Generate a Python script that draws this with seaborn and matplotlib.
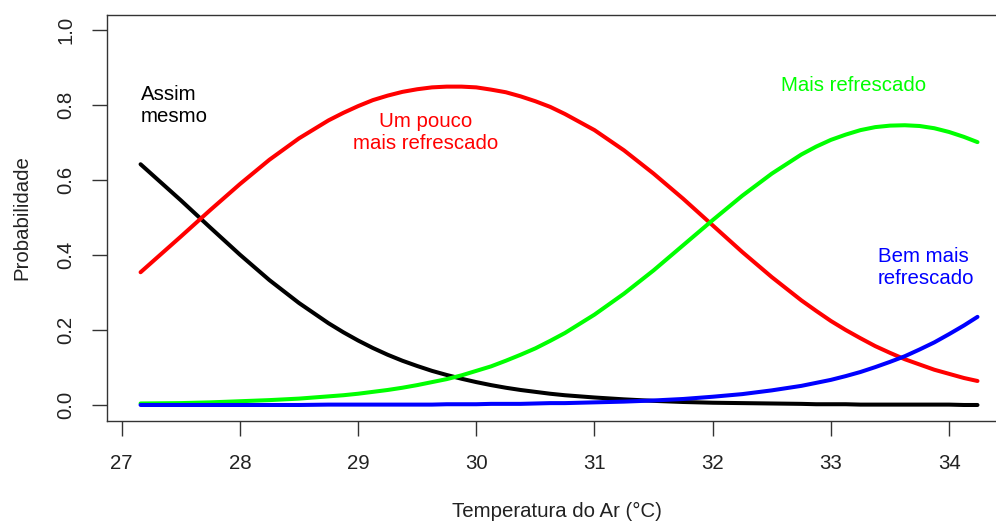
import matplotlib
matplotlib.use("Agg")
import matplotlib.pyplot as plt
import seaborn as sns
import pandas as pd

# Air temperature (°C) at which the predicted probabilities are given
temperatura = [27.16, 27.5, 27.75, 28.0, 28.25, 28.5, 28.75,
               28.875, 29.0, 29.125, 29.25, 29.375, 29.5, 29.625, 29.75, 29.875, 30.0,
               30.125, 30.25, 30.375, 30.5, 30.625, 30.75,
               31.0, 31.25, 31.5, 31.75, 32.0, 32.25, 32.5, 32.75,
               32.875, 33.0, 33.125, 33.25, 33.375, 33.5, 33.625, 33.75, 33.875, 34.0,
               34.125, 34.24]

# Predicted probability of each thermal-preference answer
assim_mesmo = [0.642, 0.546, 0.473, 0.401, 0.333, 0.272, 0.218,
               0.194, 0.172, 0.152, 0.134, 0.118, 0.104, 0.091, 0.080, 0.070, 0.061,
               0.053, 0.046, 0.040, 0.035, 0.030, 0.026,
               0.020, 0.015, 0.011, 0.008, 0.006, 0.005, 0.004, 0.003,
               0.002, 0.002, 0.002, 0.001, 0.001, 0.001, 0.001, 0.001, 0.001, 0.001,
               0.000, 0.000]
um_pouco = [0.354, 0.449, 0.520, 0.589, 0.654, 0.711, 0.759,
            0.779, 0.797, 0.813, 0.825, 0.835, 0.842, 0.847, 0.849, 0.849, 0.847,
            0.841, 0.834, 0.823, 0.810, 0.795, 0.776,
            0.733, 0.679, 0.617, 0.550, 0.479, 0.408, 0.341, 0.279,
            0.251, 0.224, 0.200, 0.178, 0.157, 0.139, 0.122, 0.108, 0.094, 0.083,
            0.072, 0.064]
mais_refrescado = [0.004, 0.005, 0.007, 0.010, 0.013, 0.017, 0.023,
                   0.026, 0.030, 0.035, 0.040, 0.046, 0.053, 0.061, 0.069, 0.079, 0.091,
                   0.103, 0.118, 0.134, 0.151, 0.171, 0.192,
                   0.241, 0.297, 0.359, 0.426, 0.493, 0.558, 0.617, 0.668,
                   0.689, 0.707, 0.721, 0.733, 0.741, 0.745, 0.746, 0.744, 0.738, 0.728,
                   0.715, 0.701]
bem_mais = [0.000, 0.000, 0.000, 0.000, 0.000, 0.000, 0.001,
            0.001, 0.001, 0.001, 0.001, 0.001, 0.001, 0.001, 0.002, 0.002, 0.002,
            0.003, 0.003, 0.003, 0.004, 0.005, 0.005,
            0.007, 0.009, 0.012, 0.016, 0.022, 0.029, 0.039, 0.051,
            0.059, 0.067, 0.077, 0.088, 0.101, 0.115, 0.130, 0.148, 0.167, 0.189,
            0.212, 0.235]

categorias = ["Assim mesmo", "Um pouco mais refrescado", "Mais refrescado",
              "Bem mais refrescado"]
cores = ["#000000", "#FF0000", "#00FF00", "#0000FF"]

x_ticks = [27, 28, 29, 30, 31, 32, 33, 34]
y_ticks = [0.0, 0.2, 0.4, 0.6, 0.8, 1.0]
y_ticklabels = ["0.0", "0.2", "0.4", "0.6", "0.8", "1.0"]

df = pd.concat(
    [pd.DataFrame({"Temperatura": temperatura, "Probabilidade": vals, "Resposta": cat})
     for cat, vals in zip(categorias, [assim_mesmo, um_pouco, mais_refrescado, bem_mais])],
    ignore_index=True,
)

sns.set_style("white")
plt.rcParams["font.family"] = ["Liberation Sans", "DejaVu Sans"]
FS = 14.7
TXT = "#222222"

fig = plt.figure(figsize=(9.96, 5.22), dpi=100)
ax = fig.add_axes([107 / 996, 1 - 421 / 522, 903 / 996, 406 / 522])

sns.lineplot(data=df, x="Temperatura", y="Probabilidade", hue="Resposta",
             hue_order=categorias, palette=cores, linewidth=2.9, legend=False,
             ax=ax, sort=False)
for line in ax.lines:
    line.set_solid_joinstyle("round")
    line.set_solid_capstyle("round")

ax.set_xlim(26.876, 34.515)
ax.set_ylim(-0.0427, 1.04)

ax.set_xticks(x_ticks)
ax.set_xticklabels([str(t) for t in x_ticks])
ax.set_yticks(y_ticks)
ax.set_yticklabels(y_ticklabels, rotation=90, va="center")
ax.tick_params(axis="both", which="major", direction="out", length=11, width=1,
               color="#333333", labelsize=FS, labelcolor=TXT, bottom=True, left=True)
ax.tick_params(axis="x", pad=13)
ax.tick_params(axis="y", pad=12)

for side in ["left", "right", "top", "bottom"]:
    ax.spines[side].set_visible(True)
    ax.spines[side].set_color("#333333")
    ax.spines[side].set_linewidth(1.0)

ax.set_xlabel("Temperatura do Ar (°C)", fontsize=FS, color=TXT)
ax.set_ylabel("Probabilidade", fontsize=FS, color=TXT)
ax.xaxis.set_label_coords((557 - 107) / 903, (421 - 511.7) / 406)
ax.xaxis.label.set_va("center")
ax.yaxis.set_label_coords((21.7 - 107) / 903, (421 - 218) / 406)
ax.yaxis.label.set_va("center")

ax.text(27.163, 0.799, "Assim\nmesmo", color="#000000", fontsize=FS,
        ha="left", va="center", linespacing=1.2)
ax.text(29.57, 0.727, "Um pouco\nmais refrescado", color="#FF0000", fontsize=FS,
        ha="center", va="center", multialignment="center", linespacing=1.2)
ax.text(33.19, 0.853, "Mais refrescado", color="#00FF00", fontsize=FS,
        ha="center", va="center")
ax.text(33.398, 0.367, "Bem mais\nrefrescado", color="#0000FF", fontsize=FS,
        ha="left", va="center", linespacing=1.2)

fig.savefig("out.png", dpi=100)
